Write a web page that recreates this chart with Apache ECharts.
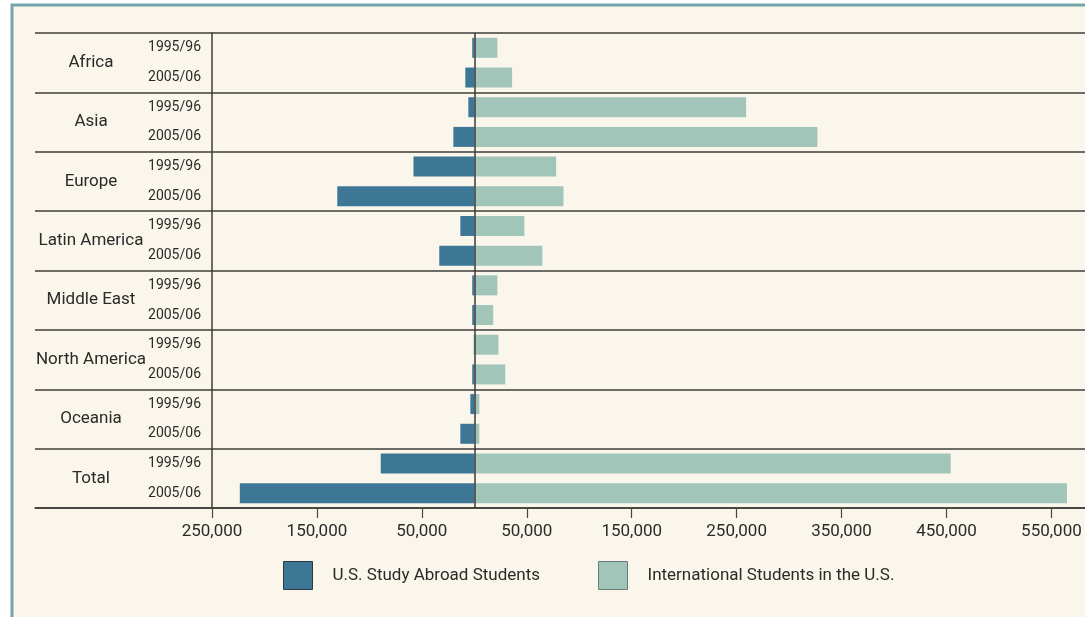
<!DOCTYPE html>
<html>
<head>
<meta charset="utf-8">
<script src="https://cdn.jsdelivr.net/npm/echarts@6/dist/echarts.min.js"></script>
<style>
  html, body { margin: 0; padding: 0; background: #fff; }
  #chart { width: 1085px; height: 617px; }
</style>
</head>
<body>
<div id="chart"></div>
<script>
// data
const regions = ['Africa', 'Asia', 'Europe', 'Latin America', 'Middle East', 'North America', 'Oceania', 'Total']
const years = ['1995/96', '2005/06']
// U.S. students going abroad, per region, [1995/96, 2005/06]
const abroad = [
  [2000, 8600],
  [5700, 20000],
  [58000, 130600],
  [13300, 33400],
  [2000, 2000],
  [500, 2000],
  [3800, 13300],
  [89200, 223500]
]
// international students coming to the U.S.
const international = [
  [22000, 36000],
  [259000, 327000],
  [78000, 85000],
  [47700, 64800],
  [22000, 18000],
  [23000, 29500],
  [4800, 4800],
  [454000, 564800]
]
const tickValues = [-250000, -150000, -50000, 50000, 150000, 250000, 350000, 450000, 550000]

const font = "Roboto, 'DejaVu Sans Condensed', sans-serif"
const ink = '#2a2a2a'
const lineColor = '#3f3b38'

let rows = []
let abroadData = []
let intlData = []
regions.forEach((r, i) => {
  years.forEach((y, j) => {
    rows.push(r + '|' + y)
    abroadData.push(-abroad[i][j])
    intlData.push(international[i][j])
  })
})

let chart = echarts.init(document.getElementById('chart'))
chart.setOption({
  backgroundColor: '#fff',
  animation: false,
  textStyle: { fontFamily: font },
  graphic: [
    {
      type: 'rect',
      z: -10,
      shape: { x: 12, y: 5, width: 1100, height: 640 },
      style: { fill: '#faf6eb', stroke: '#73a6ab', lineWidth: 3 }
    }
  ],
  legend: {
    left: 278,
    top: 556,
    itemWidth: 29,
    itemHeight: 28,
    itemGap: 58,
    icon: 'rect',
    textStyle: { fontFamily: font, fontSize: 17, color: ink, padding: [0, 0, 0, 15] },
    data: [
      { name: 'U.S. Study Abroad Students', itemStyle: { borderColor: '#2d3a40', borderWidth: 1 } },
      { name: 'International Students in the U.S.', itemStyle: { borderColor: '#6b7a76', borderWidth: 1 } }
    ]
  },
  grid: [
    { left: 35, right: 0, top: 33, bottom: 109 },
    { left: 212, right: 0, top: 33, bottom: 109 }
  ],
  xAxis: [
    {
      gridIndex: 0,
      type: 'value',
      min: 0,
      max: 1,
      axisLine: { show: true, onZero: false, lineStyle: { color: lineColor, width: 1.5 } },
      axisTick: { show: false },
      axisLabel: { show: false },
      splitLine: { show: false }
    },
    {
      gridIndex: 1,
      type: 'value',
      min: -250000,
      max: 582000,
      axisLine: { show: false },
      axisTick: {
        show: true,
        length: 10,
        customValues: tickValues,
        lineStyle: { color: '#4a4642', width: 1.2 }
      },
      axisLabel: {
        customValues: tickValues,
        margin: 15,
        fontSize: 17,
        color: ink,
        fontFamily: font,
        formatter: v => Math.abs(v).toLocaleString('en-US')
      },
      splitLine: { show: false }
    }
  ],
  yAxis: [
    {
      gridIndex: 0,
      type: 'category',
      inverse: true,
      data: regions,
      axisLine: { show: false },
      axisTick: { show: false },
      axisLabel: {
        align: 'center',
        margin: -56,
        fontSize: 17,
        color: ink,
        fontFamily: font
      },
      splitLine: { show: true, lineStyle: { color: lineColor, width: 1.5 } }
    },
    {
      gridIndex: 1,
      type: 'category',
      inverse: true,
      data: rows,
      axisLine: { show: true, onZero: false, lineStyle: { color: lineColor, width: 1.5 } },
      axisTick: { show: false },
      axisLabel: {
        margin: 11,
        fontSize: 14,
        color: ink,
        fontFamily: font,
        formatter: v => v.split('|')[1]
      }
    }
  ],
  series: [
    {
      name: 'U.S. Study Abroad Students',
      type: 'bar',
      xAxisIndex: 1,
      yAxisIndex: 1,
      stack: 'students',
      barWidth: 20,
      itemStyle: { color: '#3e7796' },
      data: abroadData,
      markLine: {
        silent: true,
        symbol: 'none',
        label: { show: false },
        lineStyle: { color: '#3a3a3a', width: 1.5, type: 'solid' },
        data: [{ xAxis: 0 }]
      }
    },
    {
      name: 'International Students in the U.S.',
      type: 'bar',
      xAxisIndex: 1,
      yAxisIndex: 1,
      stack: 'students',
      barWidth: 20,
      itemStyle: { color: '#a2c5ba' },
      data: intlData
    }
  ]
})
</script>
</body>
</html>
